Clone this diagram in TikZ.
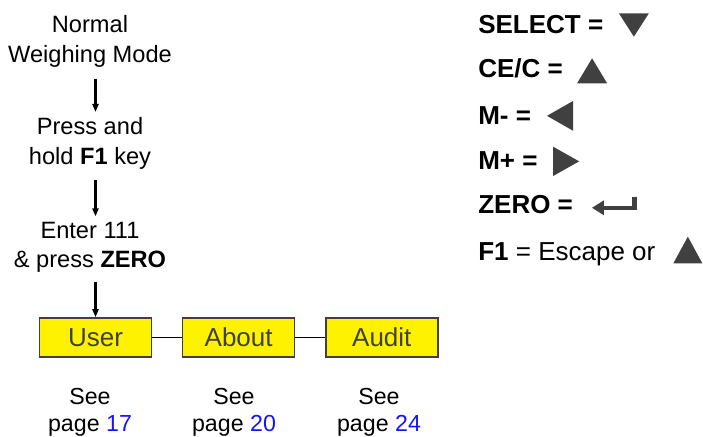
\documentclass[tikz,border=0pt]{standalone}
\usepackage{fontspec}
\setmainfont{Liberation Sans}
\usetikzlibrary{arrows.meta,positioning}
\definecolor{menuyellow}{RGB}{255,242,0}
\definecolor{keygray}{RGB}{64,64,64}
\definecolor{pageblue}{RGB}{20,20,255}
\begin{document}
\begin{tikzpicture}[
    stage/.style={align=center,inner sep=0pt,anchor=north,font=\fontsize{16.8}{21}\selectfont},
    menu/.style={draw=keygray,line width=1.1pt,fill=menuyellow,text=keygray,minimum width=2.8cm,minimum height=0.975cm,inner sep=0pt,font=\fontsize{18.5}{22}\selectfont},
    seepage/.style={align=center,inner sep=0pt,anchor=north,font=\fontsize{16.5}{19.2}\selectfont},
    keyline/.style={anchor=base west,inner sep=0pt,font=\fontsize{18.5}{22}\selectfont\bfseries},
    flow/.style={-{Triangle[length=5.7pt,width=4.3pt]},line width=1.8pt,shorten <=0.28cm,shorten >=0.13cm}
]
    \useasboundingbox (0,0) rectangle (17.575,-10.925);

    \node[stage] (normal) at (2.25,-0.39) {Normal\\Weighing Mode};
    \node[stage] (press) at (2.25,-2.93) {Press and\\hold \textbf{F1} key};
    \node[stage] (enter) at (2.25,-5.54) {Enter 111\\\& press \textbf{ZERO}};

    \node[menu] (user) at (2.3875,-8.4375) {User};
    \node[menu,right=0.74cm of user] (about) {About};
    \node[menu,right=0.74cm of about] (audit) {Audit};

    \draw[flow] (normal.south -| user.north) -- (press.north -| user.north);
    \draw[flow] (press.south -| user.north) -- (enter.north -| user.north);
    \draw[flow,shorten <=0.22cm,shorten >=0pt] (enter.south -| user.north) -- (user.north);
    \draw[line width=1.2pt] (user) -- (about);
    \draw[line width=1.2pt] (about) -- (audit);

    \node[seepage] (seeuser) at (2.25,-9.7125) {See\\page \textcolor{pageblue}{17}};
    \node[seepage] (seeabout) at (5.85,-9.7125) {See\\page \textcolor{pageblue}{20}};
    \node[seepage] (seeaudit) at (9.475,-9.7125) {See\\page \textcolor{pageblue}{24}};

    \node[keyline] (select) at (11.95,-0.8325) {SELECT =};
    \node[keyline] (cec) at (11.95,-1.9325) {CE/C =};
    \node[keyline] (mminus) at (11.95,-3.125) {M- =};
    \node[keyline] (mplus) at (11.95,-4.25) {M+ =};
    \node[keyline] (zero) at (11.95,-5.3325) {ZERO =};
    \node[keyline] (fone) at (11.95,-6.5175) {F1 \mdseries = Escape or};

    \fill[keygray,shift={(select.base east)}] (0.3825,0.5) -- (1.1325,0.5) -- (0.7575,-0.085) -- cycle;
    \fill[keygray,shift={(cec.base east)}] (0.35,-0.15) -- (1.1,-0.15) -- (0.725,0.475) -- cycle;
    \fill[keygray,shift={(mminus.base east)}] (1.0425,0.6) -- (1.0425,-0.1425) -- (0.3925,0.229) -- cycle;
    \fill[keygray,shift={(mplus.base east)}] (0.3825,0.5825) -- (0.3825,-0.15) -- (1.0325,0.216) -- cycle;
    \draw[keygray,line width=3.2pt,-{Triangle[length=8.5pt,width=10pt]},shift={(zero.base east)}] (1.53,0.415) -- (1.53,0.1375) -- (0.4675,0.1375);
    \fill[keygray,shift={(fone.base east)}] (0.4425,-0.065) -- (1.1675,-0.065) -- (0.805,0.6) -- cycle;
\end{tikzpicture}
\end{document}
